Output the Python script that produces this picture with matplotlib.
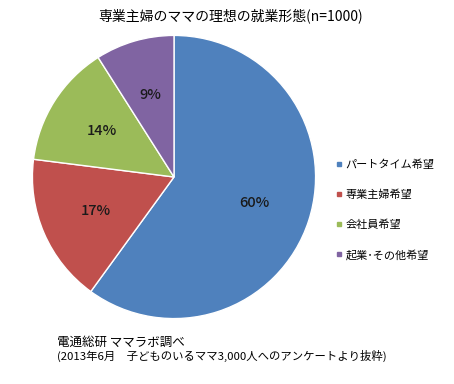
import matplotlib.pyplot as plt
from matplotlib.lines import Line2D

plt.rcParams['font.family'] = ['Noto Sans CJK JP', 'DejaVu Sans']

# データ
labels = ['パートタイム希望', '専業主婦希望', '会社員希望', '起業･その他希望']
values = [60, 17, 14, 9]
colors = ['#4F81BD', '#C0504D', '#9BBB59', '#8064A2']

fig = plt.figure(figsize=(4.54, 3.84), dpi=100)

# 円グラフ
ax = fig.add_axes([31 / 454, 1 - 320 / 384, 286 / 454, 286 / 384])
wedges, texts, autotexts = ax.pie(
    values, colors=colors, startangle=90, counterclock=False,
    autopct='%d%%', pctdistance=0.6,
    wedgeprops=dict(edgecolor='white', linewidth=1.0))
for t in autotexts:
    t.set_fontsize(10.5)
    t.set_color('#1a1a1a')
    t.set_fontweight('medium')
ax.set_xlim(-1.01, 1.01)
ax.set_ylim(-1.01, 1.01)
ax.set_aspect('equal')

# タイトル
fig.text(0.508, 1 - 16 / 384, '専業主婦のママの理想の就業形態(n=1000)',
         ha='center', va='center', fontsize=10)

# 凡例
handles = [Line2D([0], [0], marker='s', linestyle='', markersize=3.5,
                  markerfacecolor=c, markeredgecolor=c) for c in colors]
fig.legend(handles, labels, loc='upper left',
           bbox_to_anchor=(330 / 454, 1 - 154 / 384), frameon=False,
           fontsize=8, labelspacing=1.75, handlelength=0.6,
           handletextpad=0.3, borderpad=0)

# 出典
fig.text(57 / 454, 1 - 342 / 384, '電通総研 ママラボ調べ', fontsize=9,
         ha='left', va='center')
fig.text(57 / 454, 1 - 356 / 384,
         '(2013年6月　子どものいるママ3,000人へのアンケートより抜粋)',
         fontsize=8.2, ha='left', va='center')

plt.savefig('out.png', dpi=100)
plt.close()
